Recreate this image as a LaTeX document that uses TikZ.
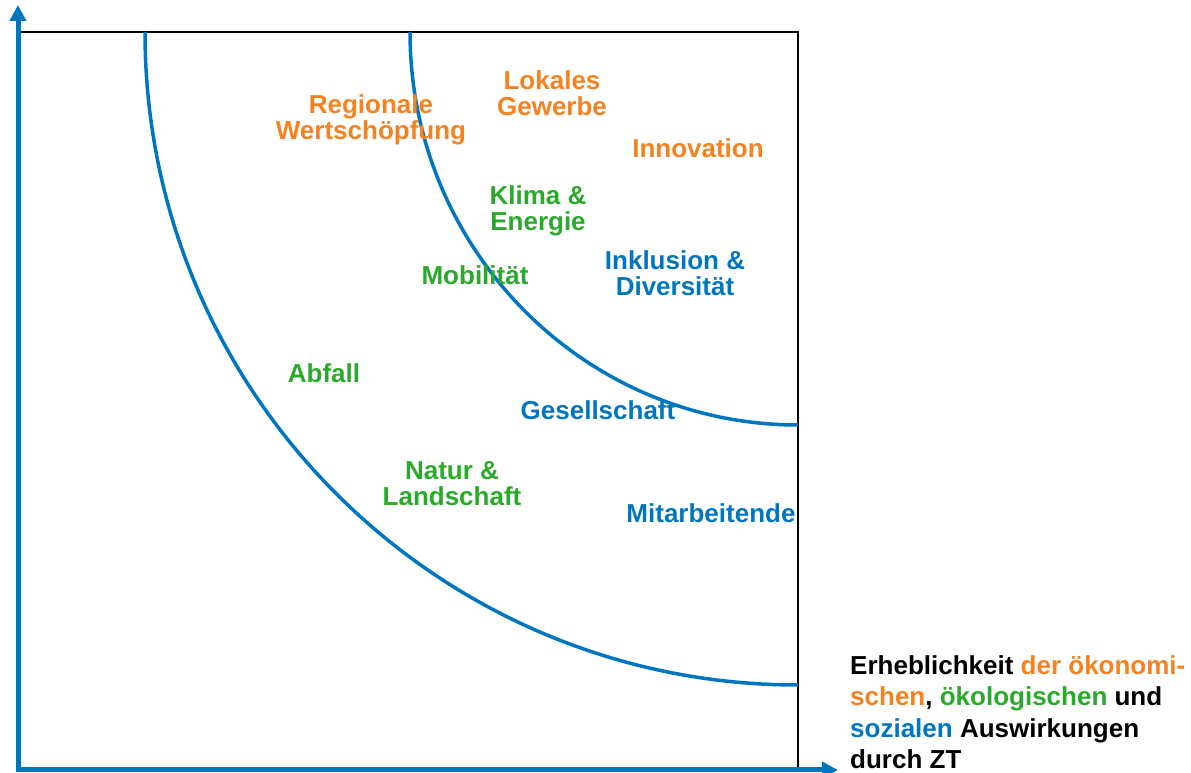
\documentclass[tikz,border=0pt]{standalone}
\usepackage{fontspec}
\setmainfont{Liberation Sans}
\usetikzlibrary{arrows.meta}
\definecolor{oekon}{RGB}{245,130,32}
\definecolor{oekol}{RGB}{42,170,42}
\definecolor{sozial}{RGB}{0,118,192}
\tikzset{
  topic/.style={align=center, inner sep=0pt, font=\bfseries\fontsize{26}{26}\selectfont},
  achse/.style={sozial, line width=5pt, -{Triangle[length=16pt,width=16pt]}}
}
\begin{document}
\begin{tikzpicture}[x=1pt,y=1pt]
    \useasboundingbox (0,0) rectangle (1191,773);
    \draw[line width=2pt] (18,741) -- (798,741) -- (798,3);
    \draw[sozial, line width=3.5pt] (145,741) arc[start angle=180, end angle=270, radius=653];
    \draw[sozial, line width=3.5pt] (410,741) arc[start angle=180, end angle=270, x radius=388, y radius=393];
    \coordinate (ursprung) at (18,3);
    \coordinate (yende) at (18,768);
    \coordinate (xende) at (838,3);
    \draw[achse] (18,1) -- (yende);
    \draw[achse] (16,3) -- (xende);
    \node[topic, oekon] (regio) at (371,653) {Regionale\\Wertschöpfung};
    \node[topic, oekon] (lokal) at (552,680) {Lokales\\Gewerbe};
    \node[topic, oekon] (innov) at (698,625) {Innovation};
    \node[topic, oekol] (klima) at (538,562) {Klima \&\\Energie};
    \node[topic, oekol] (mobil) at (475,498) {Mobilität};
    \node[topic, sozial] (inkl) at (675,500) {Inklusion \&\\Diversität};
    \node[topic, oekol] (abfall) at (324,400) {Abfall};
    \node[topic, sozial] (gesell) at (598,363) {Gesellschaft};
    \node[topic, oekol] (natur) at (452,289) {Natur \&\\Landschaft};
    \node[topic, sozial] (mitarb) at (711,260) {Mitarbeitende};
    \node[anchor=west, align=left, inner sep=0pt, font=\bfseries\fontsize{26}{31.5}\selectfont] (xlabel) at (850,61)
      {Erheblichkeit \textcolor{oekon}{der ökonomi-}\\\textcolor{oekon}{schen}, \textcolor{oekol}{ökologischen} und\\\textcolor{sozial}{sozialen} Auswirkungen\\durch ZT};
\end{tikzpicture}
\end{document}
